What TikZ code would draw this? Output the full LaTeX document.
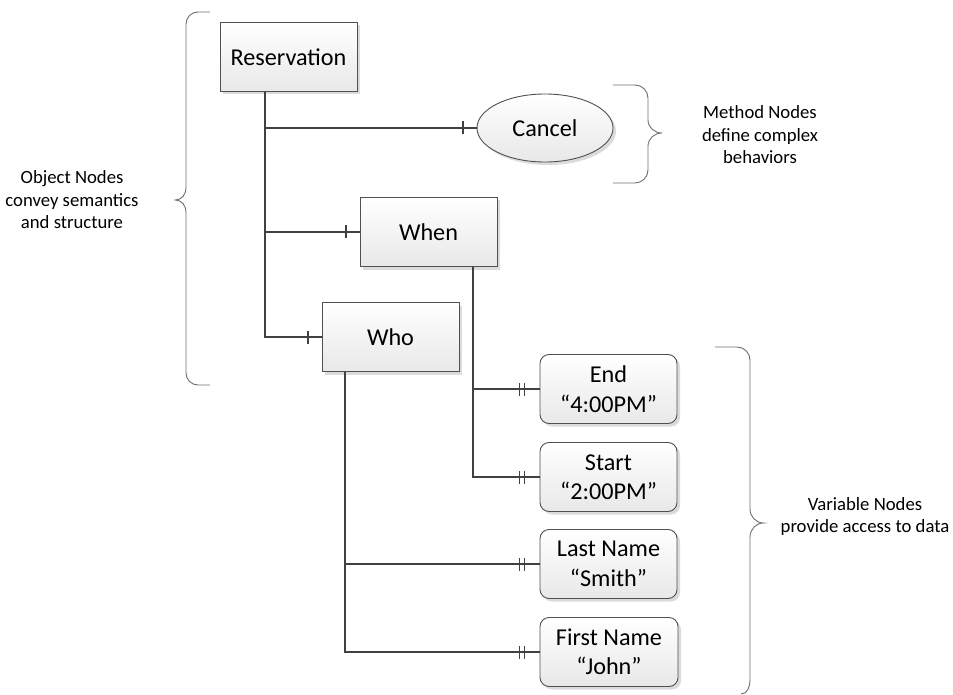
\documentclass[tikz,border=0pt]{standalone}
\usepackage{fontspec}
\setmainfont{Carlito}
\usetikzlibrary{shapes.geometric,shadows,decorations.markings}
\definecolor{lineC}{HTML}{404040}
\definecolor{edgeC}{HTML}{505050}
\definecolor{braceC}{HTML}{6E6E6E}
\tikzset{
  basebox/.style={draw=edgeC, line width=0.9pt, top color=white, bottom color=black!9,
    drop shadow={shadow xshift=3pt, shadow yshift=-3pt, fill=black!14, opacity=1},
    minimum width=137pt, minimum height=69pt, inner sep=0pt, align=center,
    font=\fontsize{24.2}{29.5}\selectfont},
  objbox/.style={basebox, rectangle},
  varbox/.style={basebox, rectangle, rounded corners=9pt},
  methbox/.style={basebox, ellipse, minimum width=136pt, minimum height=68pt},
  conn/.style={draw=lineC, line width=2pt},
  onetick/.style={postaction={decorate, decoration={markings,
      mark=at position -13.5pt with {\draw[lineC, line width=1.8pt] (0,-6.5pt) -- (0,6.5pt);}}}},
  twotick/.style={postaction={decorate, decoration={markings,
      mark=at position -20pt with {\draw[lineC, line width=1.6pt] (0,-6.5pt) -- (0,6.5pt);},
      mark=at position -15pt with {\draw[lineC, line width=1.6pt] (0,-6.5pt) -- (0,6.5pt);}}}},
  bracepath/.style={draw=braceC, line width=0.9pt},
  note/.style={align=center, font=\fontsize{18.7}{22.5}\selectfont}
}
\begin{document}
\begin{tikzpicture}[x=1pt, y=-1pt]
\useasboundingbox (0,0) rectangle (953,695);

% nodes
\node[objbox] (res) at (288.5,57) {Reservation};
\node[methbox] (cancel) at (545,128) {Cancel};
\node[objbox] (when) at (428.5,232) {When};
\node[objbox] (who) at (390.5,337) {Who};
\node[varbox] (end) at (608.5,389) {End\\“4:00PM”};
\node[varbox] (start) at (608.5,477) {Start\\“2:00PM”};
\node[varbox] (last) at (608.5,564) {Last Name\\“Smith”};
\node[varbox, minimum width=138pt] (first) at (609,652) {First Name\\“John”};

% trunk coordinates
\coordinate (resT) at ([xshift=-23.5pt]res.south);
\coordinate (whenT) at ([xshift=44.5pt]when.south);
\coordinate (whoT) at ([xshift=-45.5pt]who.south);

% connectors
\draw[conn, onetick] (resT) |- (cancel.west);
\draw[conn, onetick] (resT) |- (when.west);
\draw[conn, onetick] (resT) |- (who.west);
\draw[conn, twotick] (whenT) |- (end.west);
\draw[conn, twotick] (whenT) |- (start.west);
\draw[conn, twotick] (whoT) |- (last.west);
\draw[conn, twotick] (whoT) |- (first.west);

% braces
\draw[bracepath] (210,12) -- (198,12) to[out=180,in=90] (186,24) -- (186,188)
  to[out=-90,in=0] (175.5,200) to[out=0,in=90] (186,212) -- (186,373)
  to[out=-90,in=180] (198,385) -- (210,385);
\draw[bracepath] (613,85) -- (635,85) to[out=0,in=90] (648,98) -- (648,120)
  to[out=-90,in=180] (662,133) to[out=180,in=90] (648,146) -- (648,170)
  to[out=-90,in=0] (635,183) -- (613,183);
\draw[bracepath] (715,347) -- (737,347) to[out=0,in=90] (750,360) -- (750,509)
  to[out=-90,in=180] (763.5,523) to[out=180,in=90] (750,537) -- (750,680)
  to[out=-90,in=0] (741,694);

% notes
\node[note] (objnote) at (72,200) {Object Nodes\\convey semantics\\and structure};
\node[note] (methnote) at (760,135) {Method Nodes\\define complex\\behaviors};
\node[note] (varnote) at (865,516.5) {Variable Nodes\\provide access to data};
\end{tikzpicture}
\end{document}
